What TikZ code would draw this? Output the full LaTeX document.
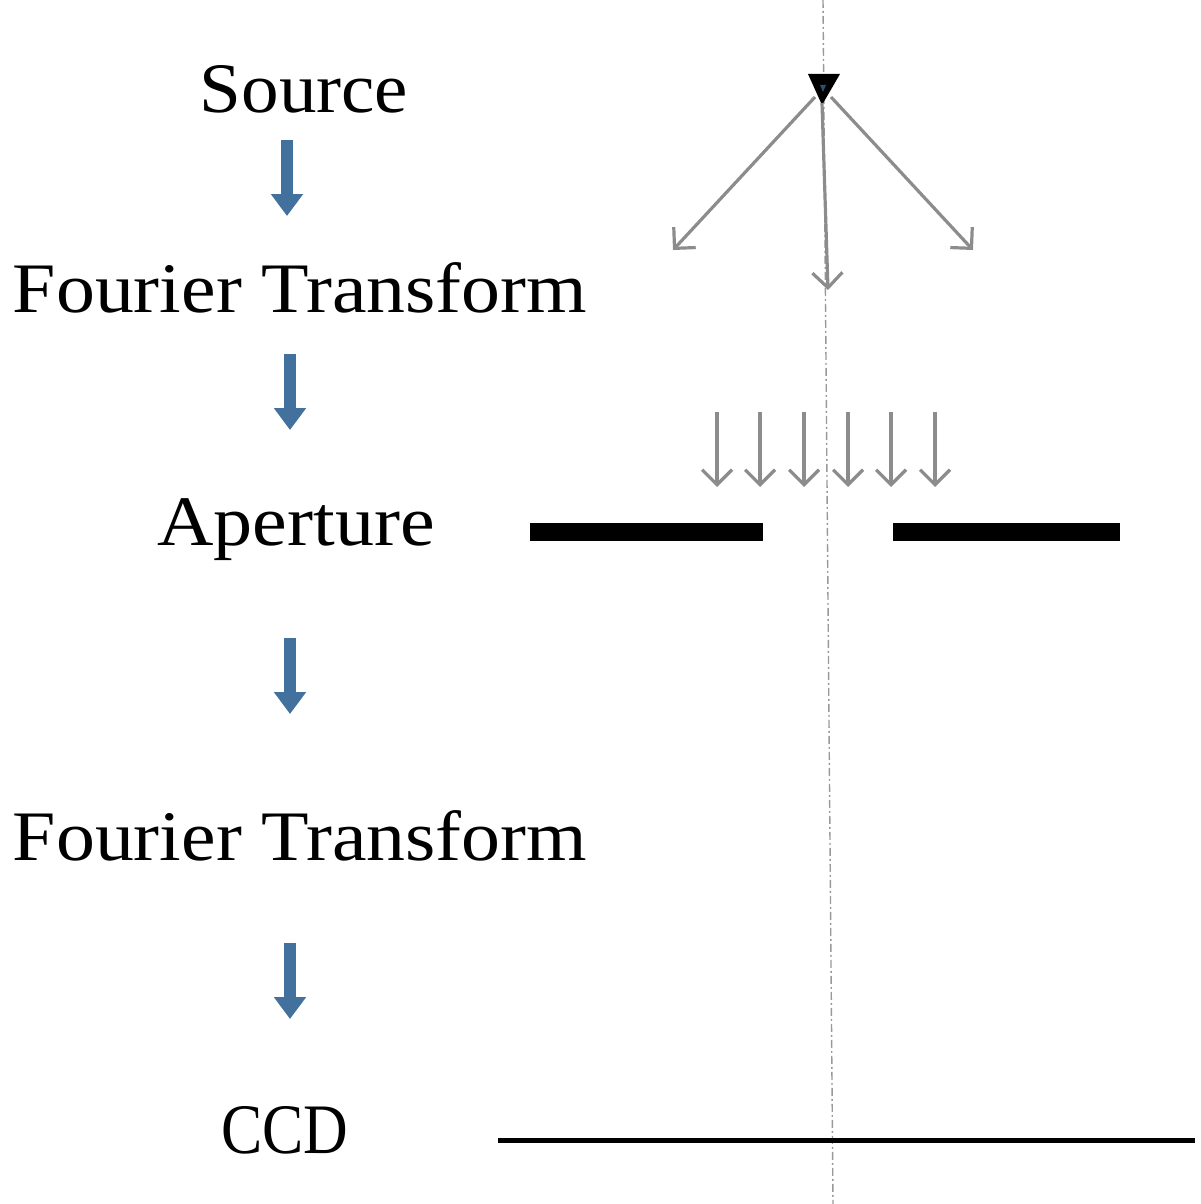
\documentclass[tikz,border=0pt]{standalone}
\usepackage{fontspec}
\usepackage{graphicx}
\setmainfont{Liberation Serif}
\usetikzlibrary{arrows.meta}
\definecolor{flowblue}{HTML}{41719C}
\definecolor{raygray}{HTML}{8C8C8C}
\begin{document}
\begin{tikzpicture}[x=1pt,y=-1pt,
  label/.style={anchor=base,inner sep=0pt,font=\fontsize{71}{80}\selectfont},
  flowarrow/.style={flowblue,line width=12pt,-{Triangle[width=31pt,length=22pt]}},
  ray/.style={raygray,line width=3.2pt,-{Straight Barb[length=15pt,width=30pt,line width=3.2pt]}},
  axisline/.style={gray!80,line width=1.4pt,dash pattern=on 8pt off 3pt on 2pt off 3pt},
  barline/.style={black,line width=18pt},
  ccdline/.style={black,line width=5pt}]
\useasboundingbox (0,0) rectangle (1201,1204);
% axis
\coordinate (axtop) at (823,0);
\coordinate (axbot) at (833,1204);
\draw[axisline] (axtop) -- (axbot);
% labels
\node[label] (source) at (304,113) {\scalebox{1.057}[1]{Source}};
\node[label] (ft1) at (300,312) {\scalebox{1.096}[1]{Fourier Transform}};
\node[label] (aper) at (296,545) {\scalebox{1.10}[1]{Aperture}};
\node[label] (ft2) at (300,860) {\scalebox{1.096}[1]{Fourier Transform}};
\node[label] (ccd) at (285,1153) {\scalebox{0.87}[1]{CCD}};
% flow arrows
\coordinate (a1s) at (287,140); \coordinate (a1e) at (287,216);
\coordinate (a2s) at (290,354); \coordinate (a2e) at (290,430);
\coordinate (a3s) at (290,638); \coordinate (a3e) at (290,714);
\coordinate (a4s) at (290,943); \coordinate (a4e) at (290,1019);
\draw[flowarrow] (a1s) -- (a1e);
\draw[flowarrow] (a2s) -- (a2e);
\draw[flowarrow] (a3s) -- (a3e);
\draw[flowarrow] (a4s) -- (a4e);
% source triangle
\fill[black] (808,74) -- (840,74) -- (822,105) -- cycle;
\fill[flowblue!70!black] (820,85) -- (826,85) -- (823,92) -- cycle;
\coordinate (srcL) at (815,97);
\coordinate (srcM) at (822,103);
\coordinate (srcR) at (831,97);
\coordinate (tipL) at (673,250);
\coordinate (tipM) at (828,290);
\coordinate (tipR) at (973,250);
\draw[ray] (srcL) -- (tipL);
\draw[ray] (srcM) -- (tipM);
\draw[ray] (srcR) -- (tipR);
% plane wave arrows
\foreach \x [count=\i] in {717,760,804,848,891,935}{
  \coordinate (w\i s) at (\x,412);
  \coordinate (w\i e) at (\x,487);
  \draw[ray] (w\i s) -- (w\i e);
}
% aperture
\coordinate (apL1) at (530,532); \coordinate (apL2) at (763,532);
\coordinate (apR1) at (893,532); \coordinate (apR2) at (1120,532);
\draw[barline] (apL1) -- (apL2);
\draw[barline] (apR1) -- (apR2);
% CCD
\coordinate (ccdL) at (498,1140); \coordinate (ccdR) at (1195,1140);
\draw[ccdline] (ccdL) -- (ccdR);
\end{tikzpicture}
\end{document}
